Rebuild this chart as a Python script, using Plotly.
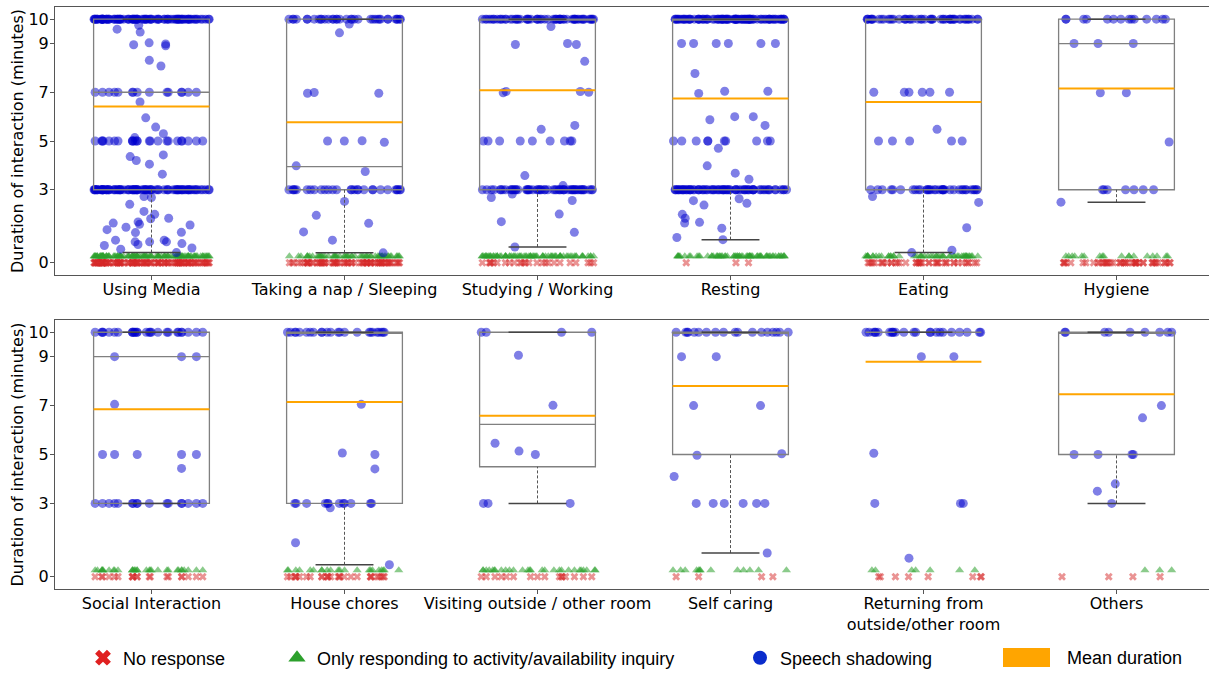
import plotly.graph_objects as go

# ---------------- data ----------------
cats_top = ["Using Media", "Taking a nap / Sleeping", "Studying / Working",
            "Resting", "Eating", "Hygiene"]
cats_bottom = ["Social Interaction", "House chores", "Visiting outside / other room",
               "Self caring", "Returning from<br>outside/other room", "Others"]
yticks = [0, 3, 5, 7, 9, 10]

# speech-shadowing durations (minutes) per activity
media = ([10.0] * 92 + [9.75, 9.59, 9.47, 9.03, 8.98, 8.95, 8.91, 8.31, 8.08] + [7.0] * 15
         + [6.6, 5.95, 5.57, 5.3, 5.14] + [5.0] * 24 + [4.43, 4.36, 4.2, 4.05, 3.64] + [3.0] * 86
         + [2.72, 2.68, 2.4, 2.11, 1.99, 1.83, 1.81, 1.68, 1.63, 1.58, 1.55, 1.46, 1.36, 1.25,
            1.24, 0.93, 0.93, 0.86, 0.86, 0.86, 0.79, 0.75, 0.71, 0.61, 0.56, 0.42])
nap = ([10.0] * 35 + [9.8, 9.44, 6.99, 6.96, 6.96, 5.01, 5.0, 5.0, 4.95, 3.98, 3.75] + [3.0] * 28
       + [2.52, 1.95, 1.62, 1.27, 0.93, 0.41])
study = ([10.0] * 60 + [9.7, 9.0, 8.96, 8.96, 8.27, 7.03, 7.03, 7.0, 6.98, 5.64, 5.48] + [5.0] * 9
         + [3.58] + [3.0] * 55 + [3.17, 2.82, 2.68, 2.56, 2.0, 1.69, 1.25, 0.65])
rest = ([10.0] * 90 + [9.0] * 6 + [7.77, 7.04, 7.04, 6.95, 6.0, 6.0, 5.87, 5.64] + [5.0] * 10
        + [4.7, 3.98, 3.68, 3.43] + [3.0] * 70
        + [2.63, 2.55, 2.44, 2.37, 1.99, 1.83, 1.66, 1.63, 1.42, 1.04, 0.95])
eat = [10.0] * 50 + [7.0] * 6 + [5.48] + [5.0] * 5 + [3.0] * 35 + [2.72, 2.48, 1.44, 0.52, 0.42]
hyg = [10.0] * 14 + [9.0] * 3 + [6.98, 6.98, 4.96] + [3.0] * 7 + [2.49]

social = [10.0] * 28 + [9.0] * 3 + [7.05] + [5.0] * 5 + [4.43] + [3.0] * 17
chores = [10.0] * 24 + [7.05, 5.06, 5.0, 4.41] + [3.0] * 12 + [2.82, 1.39, 0.49]
visit = [10.0] * 4 + [9.06, 7.01, 5.46, 5.14, 5.0] + [3.0] * 3
selfc = [10.0] * 18 + [9.0, 9.0, 7.0, 7.0, 5.03, 4.97, 4.1] + [3.0] * 6 + [0.97]
ret = [10.0] * 24 + [9.0, 9.0, 5.05] + [3.0] * 3 + [0.76]
others = [10.0] * 9 + [7.0, 6.5] + [5.0] * 4 + [3.8, 3.5, 3.0]

shadow_top = [media, nap, study, rest, eat, hyg]
shadow_bottom = [social, chores, visit, selfc, ret, others]

# counts of interactions without a duration
respond_top = [110, 55, 75, 65, 50, 18]
respond_bottom = [32, 22, 28, 13, 7, 3]
noresp_top = [110, 70, 25, 3, 40, 45]
noresp_bottom = [20, 28, 16, 4, 8, 4]

# box statistics (minutes)
q1_top = [3, 3, 3, 3, 3, 3]
med_top = [7, 3.95, 10, 10, 10, 9]
q3_top = [10, 10, 10, 10, 10, 10]
low_top = [0.42, 0.41, 0.65, 0.95, 0.42, 2.49]
mean_top = [6.42, 5.77, 7.08, 6.74, 6.6, 7.15]

q1_bottom = [3, 3, 4.5, 5, 10, 5]
med_bottom = [9, 10, 6.23, 10, 10, 10]
q3_bottom = [10, 10, 10, 10, 10, 10]
low_bottom = [3, 0.49, 3, 0.97, 10, 3]
mean_bottom = [6.85, 7.15, 6.58, 7.8, 8.79, 7.46]

# ---------------- style ----------------
TICKFONT = dict(family="DejaVu Sans", size=16, color="black")
LEGFONT = dict(family="Liberation Sans, Arial, sans-serif", size=18, color="black")
BLUE_PT = "rgba(0,0,205,0.5)"
GREEN_PT = "rgba(44,160,44,0.55)"
RED_PT = "rgba(214,39,40,0.5)"
BOX_W = 0.6
RESP_LEVEL = 0.27
NORESP_LEVEL = 0.0
LEVELS = [10.0, 9.0, 7.0, 5.0, 3.0]   # rows of tied values get their own jitter groups

fig = go.Figure()


def pts(xa, ya, groups, color, symbol, size):
    xs, ys = [], []
    for i, g in enumerate(groups):
        xs += [i] * len(g)
        ys += list(g)
    if not xs:
        return
    fig.add_trace(go.Box(
        x=xs, y=ys, xaxis=xa, yaxis=ya, boxpoints="all", jitter=1, pointpos=0,
        width=BOX_W, line=dict(width=0, color="rgba(0,0,0,0)"),
        fillcolor="rgba(0,0,0,0)", whiskerwidth=0,
        marker=dict(color=color, symbol=symbol, size=size, line=dict(width=0)),
        showlegend=False, hoverinfo="y"))


def add_panel(xa, ya, shadow, resp, noresp, q1, med, q3, low, mean):
    n = len(shadow)
    pts(xa, ya, [[NORESP_LEVEL] * c for c in noresp], RED_PT, "x", 7)
    pts(xa, ya, [[RESP_LEVEL] * c for c in resp], GREEN_PT, "triangle-up", 8)
    for lvl in LEVELS:
        pts(xa, ya, [[v for v in g if v == lvl] for g in shadow], BLUE_PT, "circle", 9)
    pts(xa, ya, [[v for v in g if v not in LEVELS] for g in shadow], BLUE_PT, "circle", 9)

    # boxes
    fig.add_trace(go.Box(
        x=list(range(n)), q1=q1, median=med, q3=q3, lowerfence=q1, upperfence=q3,
        xaxis=xa, yaxis=ya, width=BOX_W, fillcolor="rgba(0,0,0,0)",
        line=dict(color="#808080", width=1.3), whiskerwidth=0, boxpoints=False,
        showlegend=False, hoverinfo="skip"))

    # whiskers (dashed), caps and mean lines
    wx, wy, cx, cy, mx, my = [], [], [], [], [], []
    for i in range(n):
        if low[i] < q1[i]:
            wx += [i, i, None]
            wy += [low[i], q1[i], None]
        if not (low[i] == q1[i] == q3[i]):
            cx += [i - 0.15, i + 0.15, None]
            cy += [low[i], low[i], None]
        cx += [i - 0.15, i + 0.15, None]
        cy += [q3[i], q3[i], None]
        mx += [i - BOX_W / 2, i + BOX_W / 2, None]
        my += [mean[i], mean[i], None]
    fig.add_trace(go.Scatter(x=wx, y=wy, xaxis=xa, yaxis=ya, mode="lines",
                             line=dict(color="#555555", width=1, dash="3px,2px"),
                             showlegend=False, hoverinfo="skip"))
    fig.add_trace(go.Scatter(x=cx, y=cy, xaxis=xa, yaxis=ya, mode="lines",
                             line=dict(color="#444444", width=1.5),
                             showlegend=False, hoverinfo="skip"))
    fig.add_trace(go.Scatter(x=mx, y=my, xaxis=xa, yaxis=ya, mode="lines",
                             line=dict(color="#ffa500", width=2),
                             showlegend=False, hoverinfo="skip"))


add_panel("x", "y", shadow_top, respond_top, noresp_top,
          q1_top, med_top, q3_top, low_top, mean_top)
add_panel("x2", "y2", shadow_bottom, respond_bottom, noresp_bottom,
          q1_bottom, med_bottom, q3_bottom, low_bottom, mean_bottom)

# legend entries
leg_items = [("No response", "#e02020", "x", 14, "legend"),
             ("Only responding to activity/availability inquiry", "#2ca02c", "triangle-up", 15, "legend2"),
             ("Speech shadowing", "#0a2ccc", "circle", 14, "legend3")]
for name, col, sym, sz, lg in leg_items:
    fig.add_trace(go.Scatter(x=[None], y=[None], mode="markers", name=name,
                             marker=dict(color=col, symbol=sym, size=sz),
                             legend=lg, showlegend=True))

W, H = 1209, 675
ML, MR, MT, MB = 55, 0, 7, 86
PW = W - ML - MR
PH = H - MT - MB


def px_x(p):
    return (p - ML) / PW


def px_y(p):
    return (H - MB - p) / PH


leg_common = dict(orientation="h", yref="container", xref="container",
                  y=1 - 658 / H, yanchor="middle", xanchor="left",
                  font=LEGFONT, bgcolor="rgba(0,0,0,0)", itemsizing="trace")
marker_px = [103, 297, 760]

axis_common = dict(showline=True, mirror=True, linecolor="#555555", linewidth=1,
                   ticks="outside", ticklen=4, tickcolor="#555555", showgrid=False,
                   zeroline=False, tickfont=TICKFONT, automargin=False)
xrange = [-0.5, -0.5 + PW / 193.0]

fig.update_layout(
    width=W, height=H,
    margin=dict(l=ML, r=MR, t=MT, b=MB, autoexpand=False),
    plot_bgcolor="white", paper_bgcolor="white",
    boxmode="overlay",
    xaxis=dict(domain=[0, 1], anchor="y", range=xrange, tickvals=list(range(6)),
               ticktext=cats_top, ticklabelstandoff=-4, **axis_common),
    yaxis=dict(domain=[px_y(275), 1], anchor="x", range=[-0.5, 10.5], tickvals=yticks,
               ticklabelstandoff=-2,
               title=dict(text="Duration of interaction (minutes)", font=TICKFONT, standoff=0),
               **axis_common),
    xaxis2=dict(domain=[0, 1], anchor="y2", range=xrange, tickvals=list(range(6)),
                ticktext=cats_bottom, ticklabelstandoff=-4, **axis_common),
    yaxis2=dict(domain=[0, px_y(320)], anchor="x2", range=[-0.5, 10.5], tickvals=yticks,
                ticklabelstandoff=-2,
                title=dict(text="Duration of interaction (minutes)", font=TICKFONT, standoff=0),
                **axis_common),
    legend=dict(x=(marker_px[0] - 20) / W, **leg_common),
    legend2=dict(x=(marker_px[1] - 20) / W, **leg_common),
    legend3=dict(x=(marker_px[2] - 20) / W, **leg_common),
    shapes=[dict(type="rect", xref="paper", yref="paper",
                 x0=px_x(1003), x1=px_x(1050), y0=px_y(667), y1=px_y(648),
                 fillcolor="#ffa500", line=dict(width=0))],
    annotations=[dict(text="Mean duration", xref="paper", yref="paper",
                      x=px_x(1065), y=px_y(658), xanchor="left", yanchor="middle",
                      showarrow=False, font=LEGFONT)],
)

fig.write_html("out.html", config={"displayModeBar": False},
               post_script="document.body.style.margin='0';")
